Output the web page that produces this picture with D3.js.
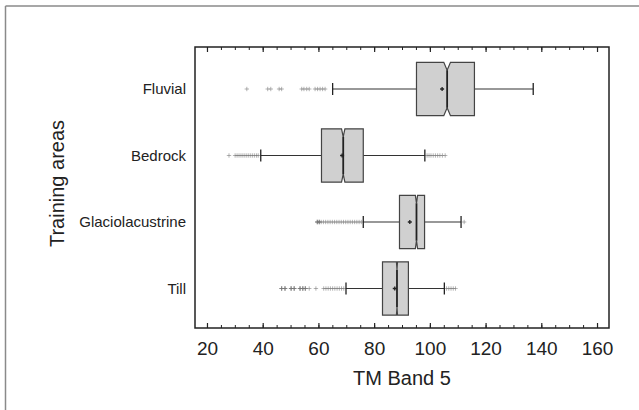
<!DOCTYPE html>
<html><head><meta charset="utf-8">
<script src="https://cdn.jsdelivr.net/npm/d3@7"></script>
<style>body{margin:0;background:#fff}svg{display:block}text{font-family:"Liberation Sans",Arial,Helvetica,sans-serif;fill:#222}</style>
</head><body>
<script>
const categories = ["Fluvial", "Bedrock", "Glaciolacustrine", "Till"];
const q1 =      [95.2, 61.1, 89.1, 83.0];
const medians = [106.2, 68.9, 95.2, 88.2];
const q3 =      [116.0, 76.1, 98.1, 92.3];
const means =   [104.4, 68.5, 92.8, 87.4];
const whiskerLow =  [65.1, 39.3, 76.1, 69.9];
const whiskerHigh = [137.1, 98.2, 111.2, 105.2];
const notchHalf = [1.2, 0.6, 0.4, 0.2];
const outliers = [
  [34.3, 41.8, 42.9, 45.9, 46.8, 54.0, 54.8, 55.8, 56.7, 58.8, 59.7, 60.6, 61.5, 62.4],
  [27.9, 30.1, 30.8, 31.5, 32.2, 32.9, 33.6, 34.3, 35.0, 35.7, 36.4, 37.1, 37.8, 38.4,
   99.0, 99.7, 100.4, 101.2, 102.0, 102.8, 103.6, 104.5, 105.5],
  [59.6, 59.6, 59.6, 60.3, 60.3, 60.3, 61.0, 61.8, 62.6, 63.4, 64.2, 65.0, 65.8, 66.6, 67.4, 68.2,
   69.0, 69.8, 70.6, 71.4, 72.2, 73.0, 73.8, 74.6, 75.4, 112.3],
  [46.8, 46.8, 46.8, 48.0, 48.0, 48.0, 50.2, 50.2, 50.2, 51.3, 51.3, 51.3, 53.4, 53.4, 53.4,
   54.4, 54.4, 54.4, 55.3, 55.3, 55.3, 56.7, 59.1, 61.9, 62.7, 63.5, 64.3, 65.1, 65.9, 66.7,
   67.5, 68.3, 69.1, 106.0, 106.8, 107.6, 108.4, 109.2]
];
const majorTicks = [20, 40, 60, 80, 100, 120, 140, 160];
const minorTicks = d3.range(20, 161, 5);
const xTitle = "TM Band 5";
const yTitle = "Training areas";

const W = 639, H = 410;
const svg = d3.select("body").append("svg").attr("width", W).attr("height", H);

// outer frame (top and left visible)
svg.append("line").attr("x1", 5.5).attr("x2", W).attr("y1", 6).attr("y2", 6).attr("stroke", "#8a8a8a").attr("stroke-width", 1.5);
svg.append("line").attr("x1", 5.5).attr("x2", 5.5).attr("y1", 6).attr("y2", H).attr("stroke", "#8a8a8a").attr("stroke-width", 1.5);

const L = 195, R = 609, T = 47, B = 328;
const x = d3.scaleLinear().domain([15.7, 164.3]).range([L, R]);
const y = d3.scalePoint().domain(categories).range([89, 288.5]);
const bh = 26.7, depth = 8, cap = 6;

// ticks bottom
const axB = svg.append("g").attr("transform", `translate(0,${B})`)
  .call(d3.axisBottom(x).tickValues(minorTicks).tickSize(-3).tickFormat(""));
axB.select(".domain").remove();
axB.selectAll("line").attr("stroke", "#222");
const axB2 = svg.append("g").attr("transform", `translate(0,${B})`)
  .call(d3.axisBottom(x).tickValues(majorTicks).tickSize(-5).tickPadding(14).tickFormat(d3.format("d")));
axB2.select(".domain").remove();
axB2.selectAll("line").attr("stroke", "#222").attr("stroke-width", 1.2);
axB2.selectAll("text").attr("font-size", 19).attr("fill", "#222").attr("font-family", "Liberation Sans, Arial, sans-serif");
const axT = svg.append("g").attr("transform", `translate(0,${T})`)
  .call(d3.axisTop(x).tickValues(minorTicks).tickSize(-3).tickFormat(""));
axT.select(".domain").remove();
axT.selectAll("line").attr("stroke", "#222");
const axT2 = svg.append("g").attr("transform", `translate(0,${T})`)
  .call(d3.axisTop(x).tickValues(majorTicks).tickSize(-5).tickFormat(""));
axT2.select(".domain").remove();
axT2.selectAll("line").attr("stroke", "#222").attr("stroke-width", 1.2);

// frame
svg.append("rect").attr("x", L).attr("y", T).attr("width", R - L).attr("height", B - T)
  .attr("fill", "none").attr("stroke", "#222").attr("stroke-width", 1.5);

function plus(g, cx, cy, s, color, op, sw) {
  g.append("path").attr("d", `M${cx - s},${cy}H${cx + s}M${cx},${cy - s}V${cy + s}`)
    .attr("stroke", color).attr("stroke-opacity", op).attr("stroke-width", sw).attr("fill", "none");
}

categories.forEach((c, i) => {
  const g = svg.append("g");
  const cy = y(c);
  // outliers
  outliers[i].forEach(v => plus(g, x(v), cy, 2.2, "#777", 0.55, 1));
  // whiskers
  g.append("line").attr("x1", x(whiskerLow[i])).attr("x2", x(q1[i])).attr("y1", cy).attr("y2", cy).attr("stroke", "#333").attr("stroke-width", 1.1);
  g.append("line").attr("x1", x(q3[i])).attr("x2", x(whiskerHigh[i])).attr("y1", cy).attr("y2", cy).attr("stroke", "#333").attr("stroke-width", 1.1);
  [whiskerLow[i], whiskerHigh[i]].forEach(v =>
    g.append("line").attr("x1", x(v)).attr("x2", x(v)).attr("y1", cy - cap).attr("y2", cy + cap).attr("stroke", "#222").attr("stroke-width", 1.3));
  // notched box
  const a = x(q1[i]), b = x(q3[i]), m = x(medians[i]);
  const nl = x(medians[i] - notchHalf[i]), nh = x(medians[i] + notchHalf[i]);
  const top = cy - bh, bot = cy + bh;
  const pts = [[a, top], [nl, top], [m, top + depth], [nh, top], [b, top], [b, bot], [nh, bot], [m, bot - depth], [nl, bot], [a, bot]];
  g.append("path").attr("d", d3.line()(pts) + "Z").attr("fill", "#d0d0d0").attr("stroke", "#444").attr("stroke-width", 1.2);
  g.append("line").attr("x1", m).attr("x2", m).attr("y1", top + depth).attr("y2", bot - depth).attr("stroke", "#222").attr("stroke-width", 1.8);
  // mean
  plus(g, x(means[i]), cy, 2, "#222", 1, 1.3);
  // label
  svg.append("text").attr("x", 186).attr("y", cy + 5).attr("text-anchor", "end").attr("font-size", 15).text(c);
});

svg.append("text").attr("x", (L + R) / 2).attr("y", 385).attr("text-anchor", "middle").attr("font-size", 20).text(xTitle);
svg.append("text").attr("transform", `translate(64,183.5) rotate(-90)`).attr("text-anchor", "middle").attr("font-size", 20).text(yTitle);
</script>
</body></html>
